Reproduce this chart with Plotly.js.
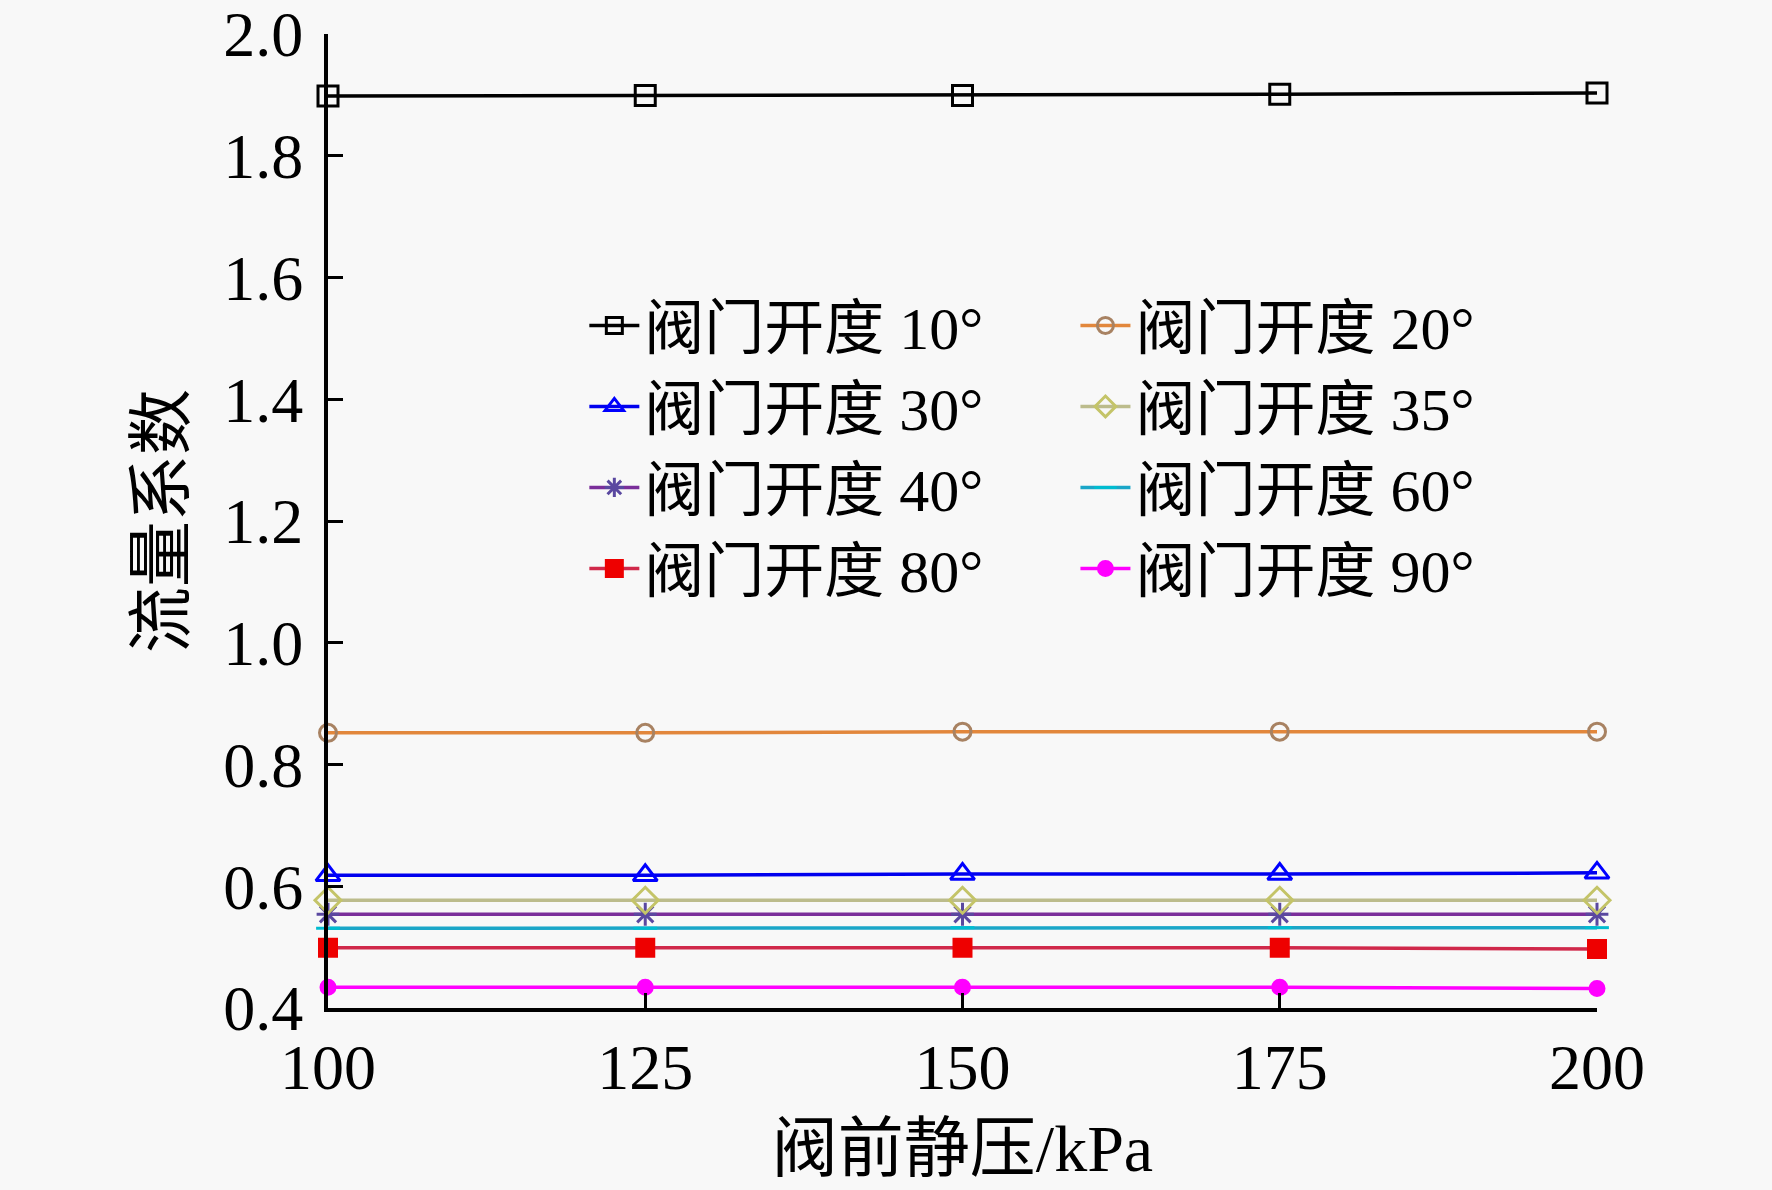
<!DOCTYPE html>
<html>
<head>
<meta charset="utf-8">
<script src="https://cdn.plot.ly/plotly-3.0.1.min.js"></script>
<style>
  html, body { margin: 0; padding: 0; background: #f8f8f8; }
  #chart { width: 1772px; height: 1190px; }
</style>
</head>
<body>
<div id="chart"></div>
<script>
// 阀前静压 (kPa)
const pressure = [100, 125, 150, 175, 200]

// 流量系数 for each valve opening
const open10 = [1.898, 1.899, 1.899, 1.901, 1.903]
const open20 = [0.852, 0.852, 0.854, 0.854, 0.854]
const open30 = [0.618, 0.618, 0.620, 0.620, 0.622]
const open35 = [0.577, 0.577, 0.577, 0.577, 0.577]
const open40 = [0.554, 0.554, 0.554, 0.554, 0.554]
const open60 = [0.531, 0.531, 0.532, 0.532, 0.532]
const open80 = [0.499, 0.499, 0.499, 0.499, 0.497]
const open90 = [0.434, 0.434, 0.434, 0.434, 0.432]

const seriesNames = ['阀门开度 10°', '阀门开度 20°', '阀门开度 30°', '阀门开度 35°',
                     '阀门开度 40°', '阀门开度 60°', '阀门开度 80°', '阀门开度 90°']

const xTicks = [100, 125, 150, 175, 200]
const yTicks = [0.4, 0.6, 0.8, 1.0, 1.2, 1.4, 1.6, 1.8, 2.0]
const yTickText = ['0.4', '0.6', '0.8', '1.0', '1.2', '1.4', '1.6', '1.8', '2.0']

const serif = "'Liberation Serif', 'Times New Roman', 'Noto Sans CJK SC', serif"

function series(y, name, legend, lineColor, symbol, markerColor, size) {
  return {
    x: pressure,
    y: y,
    name: name,
    legend: legend,
    type: 'scatter',
    mode: 'lines+markers',
    cliponaxis: false,
    line: { color: lineColor, width: 3.5 },
    marker: {
      symbol: symbol,
      size: size,
      color: markerColor,
      line: { color: markerColor, width: 3 }
    }
  }
}

// left legend column: 10, 30, 40, 80 ; right column: 20, 35, 60, 90
var data = [
  series(open10, seriesNames[0], 'legend', '#000000', 'square-open', '#000000', 20),
  series(open30, seriesNames[2], 'legend', '#0000ee', 'triangle-up-open', '#0000ff', 21),
  series(open40, seriesNames[4], 'legend', '#7a2e9a', 'asterisk-open', '#5a48a0', 19),
  series(open80, seriesNames[6], 'legend', '#d0284a', 'square', '#ee0000', 17),
  series(open20, seriesNames[1], 'legend2', '#e2873c', 'circle-open', '#a88262', 17),
  series(open35, seriesNames[3], 'legend2', '#bcbc8c', 'diamond-open', '#c4c468', 20),
  series(open60, seriesNames[5], 'legend2', '#1aa6c8', 'line-ew-open', '#00bcd0', 17),
  series(open90, seriesNames[7], 'legend2', '#ff00ff', 'circle', '#ff00ff', 14)
]

var tickFont = { family: serif, size: 64, color: '#000000' }
var legendFont = { family: serif, size: 60, color: '#000000' }
var titleFont = { family: serif, size: 66, color: '#000000' }

var layout = {
  width: 1772,
  height: 1190,
  paper_bgcolor: '#f8f8f8',
  plot_bgcolor: '#f8f8f8',
  margin: { l: 328, r: 175, t: 34, b: 182 },
  showlegend: true,
  xaxis: {
    range: [100, 200],
    tickvals: xTicks,
    ticktext: xTicks.map(String),
    ticks: 'inside',
    ticklen: 15,
    tickwidth: 3,
    tickcolor: '#000000',
    showline: true,
    linewidth: 4,
    linecolor: '#000000',
    showgrid: false,
    zeroline: false,
    tickfont: tickFont,
    ticklabelstandoff: 0,
    ticklabeloverflow: 'allow',
    title: { text: '阀前静压/kPa', font: titleFont, standoff: 24 }
  },
  yaxis: {
    range: [0.4, 2.0],
    tickvals: yTicks,
    ticktext: yTickText,
    ticks: 'inside',
    ticklen: 15,
    tickwidth: 3,
    tickcolor: '#000000',
    showline: true,
    linewidth: 4,
    linecolor: '#000000',
    showgrid: false,
    zeroline: false,
    tickfont: tickFont,
    ticklabelstandoff: 8,
    // the 2.0 label sits close to the top edge, keep it drawn
    ticklabeloverflow: 'allow',
    title: { text: '流量系数', font: titleFont, standoff: 18 }
  },
  legend: {
    x: 0.202, y: 0.7475, xanchor: 'left', yanchor: 'top',
    bgcolor: 'rgba(0,0,0,0)',
    font: legendFont,
    itemwidth: 50,
    tracegroupgap: 0
  },
  legend2: {
    x: 0.589, y: 0.7475, xanchor: 'left', yanchor: 'top',
    bgcolor: 'rgba(0,0,0,0)',
    font: legendFont,
    itemwidth: 50,
    tracegroupgap: 0
  }
}

Plotly.newPlot('chart', data, layout, { displayModeBar: false, staticPlot: true })
</script>
</body>
</html>
